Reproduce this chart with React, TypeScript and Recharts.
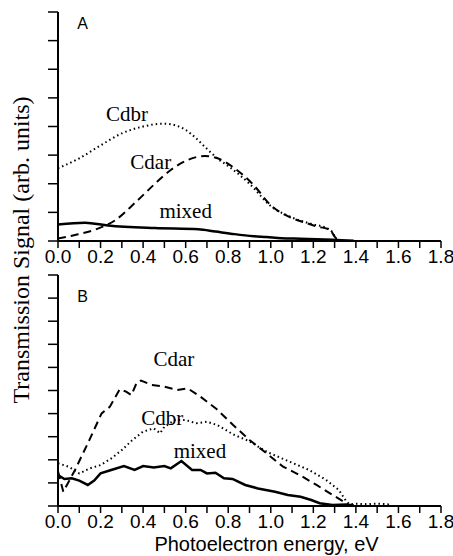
import React from 'react';
import { LineChart, Line, XAxis, YAxis, ReferenceDot } from 'recharts';

// ---- tick values ----
const xTicks = [0, 0.1, 0.2, 0.3, 0.4, 0.5, 0.6, 0.7, 0.8, 0.9, 1.0, 1.1, 1.2, 1.3, 1.4, 1.5, 1.6, 1.7, 1.8];
const aYTicks = [0, 1, 2, 3, 4, 5, 6, 7, 8];
const bYTicks = [0, 1, 2, 3, 4, 5, 6, 7, 8, 9, 10];

// ---- Panel A ----
const aCdbrE = [0, 0.1, 0.2, 0.3, 0.4, 0.5, 0.6, 0.65, 0.7, 0.75, 0.8, 0.9, 1.0, 1.1, 1.2, 1.26, 1.29, 1.31];
const aCdbrV = [2.54, 2.89, 3.34, 3.76, 4.0, 4.1, 3.88, 3.58, 3.22, 2.88, 2.62, 2.0, 1.22, 0.82, 0.58, 0.46, 0.3, 0.03];

const aCdarE = [0, 0.08, 0.19, 0.27, 0.36, 0.45, 0.53, 0.61, 0.69, 0.75, 0.83, 0.92, 1.0, 1.1, 1.17, 1.21, 1.28, 1.3, 1.33];
const aCdarV = [0.09, 0.21, 0.44, 0.73, 1.32, 1.96, 2.48, 2.83, 2.97, 2.89, 2.54, 1.95, 1.25, 0.8, 0.62, 0.52, 0.38, 0.15, 0.0];

const aMixedE = [0, 0.127, 0.236, 0.455, 0.66, 0.74, 0.83, 0.92, 0.98, 1.05, 1.14, 1.29, 1.39];
const aMixedV = [0.58, 0.64, 0.54, 0.45, 0.41, 0.33, 0.24, 0.17, 0.14, 0.1, 0.08, 0.04, 0.01];

// ---- Panel B ----
const bCdarE = [0, 0.025, 0.08, 0.14, 0.205, 0.244, 0.29, 0.32, 0.345, 0.37, 0.39, 0.44, 0.5, 0.56, 0.61, 0.67, 0.745, 0.823, 0.9, 0.98, 1.058, 1.136, 1.215, 1.29, 1.355, 1.37];
const bCdarV = [1.5, 0.62, 1.56, 2.71, 4.01, 4.3, 5.05, 4.95, 4.8, 5.34, 5.43, 5.24, 5.17, 5.02, 5.09, 4.73, 4.2, 3.51, 2.86, 2.28, 1.7, 1.34, 0.91, 0.48, 0.12, 0];

const bCdbrE = [0, 0.05, 0.1, 0.15, 0.2, 0.25, 0.3, 0.35, 0.4, 0.45, 0.48, 0.5, 0.55, 0.6, 0.65, 0.7, 0.75, 0.823, 0.9, 0.98, 1.07, 1.18, 1.26, 1.32, 1.355, 1.37, 1.4, 1.45, 1.5, 1.55, 1.56];
const bCdbrV = [1.85, 1.7, 1.41, 1.63, 1.77, 2.06, 2.42, 2.86, 3.22, 3.36, 3.15, 3.43, 3.72, 3.72, 3.58, 3.65, 3.5, 3.1, 2.8, 2.35, 1.99, 1.56, 1.13, 0.69, 0.2, 0.08, 0.1, 0.08, 0.1, 0.08, 0];

const bMixedE = [0, 0.03, 0.065, 0.1, 0.14, 0.17, 0.2, 0.25, 0.31, 0.36, 0.4, 0.45, 0.5, 0.53, 0.58, 0.63, 0.67, 0.7, 0.74, 0.78, 0.82, 0.88, 0.94, 1.02, 1.08, 1.14, 1.19, 1.23, 1.29, 1.355, 1.39];
const bMixedV = [1.34, 1.17, 1.2, 1.1, 0.91, 1.1, 1.41, 1.56, 1.73, 1.56, 1.73, 1.67, 1.73, 1.63, 1.95, 1.56, 1.56, 1.41, 1.44, 1.2, 1.17, 0.91, 0.76, 0.62, 0.48, 0.4, 0.26, 0.12, 0.04, 0.07, 0.02];

// ---- annotations (text, energy, signal) ----
const aNotes = [
  { text: 'Cdbr', e: 0.324, v: 4.44, serif: true },
  { text: 'Cdar', e: 0.436, v: 2.77, serif: true },
  { text: 'mixed', e: 0.6, v: 1.07, serif: true },
  { text: 'A', e: 0.115, v: 7.6, serif: false },
];
const bNotes = [
  { text: 'Cdar', e: 0.545, v: 6.37, serif: true },
  { text: 'Cdbr', e: 0.49, v: 3.85, serif: true },
  { text: 'mixed', e: 0.667, v: 2.41, serif: true },
  { text: 'B', e: 0.116, v: 9.06, serif: false },
];

const zip = (e: number[], v: number[]) => e.map((x, i) => ({ e: x, v: v[i] }));

const SANS = 'Liberation Sans, Arial, sans-serif';
const SERIF = 'Liberation Serif, Times New Roman, serif';

const xFmt = (v: number) => (Math.round(v * 10) % 2 === 0 ? v.toFixed(1) : '');

function notes(list: typeof aNotes) {
  return list.map((n) => (
    <ReferenceDot
      key={n.text + n.e}
      x={n.e}
      y={n.v}
      r={0}
      fill="none"
      stroke="none"
      label={{
        value: n.text,
        position: 'center',
        fontSize: n.serif ? 21 : 16,
        fontFamily: n.serif ? SERIF : SANS,
        fill: '#000',
      }}
    />
  ));
}

export default function App() {
  const xAxisCommon = {
    dataKey: 'e',
    type: 'number' as const,
    domain: [0, 1.8],
    ticks: xTicks,
    interval: 0 as const,
    tickFormatter: xFmt,
    tickSize: 7,
    tickMargin: 2,
    axisLine: { stroke: '#000', strokeWidth: 2 },
    tickLine: { stroke: '#000', strokeWidth: 1.5 },
    tick: { fontSize: 19, fill: '#000', fontFamily: SANS },
    allowDataOverflow: true,
  };
  const yAxisCommon = {
    type: 'number' as const,
    width: 58,
    tickSize: 10,
    tickFormatter: () => '',
    axisLine: { stroke: '#000', strokeWidth: 2 },
    tickLine: { stroke: '#000', strokeWidth: 1.5 },
    allowDataOverflow: true,
  };
  return (
    <div style={{ position: 'absolute', left: 0, top: 0, width: 453, height: 556, background: '#fff' }}>
      <div style={{ position: 'absolute', left: 0, top: 0 }}>
        <LineChart width={453} height={270} margin={{ top: 12, right: 12, bottom: 0, left: 0 }}>
          <XAxis {...xAxisCommon} height={29} />
          <YAxis {...yAxisCommon} domain={[0, 8]} ticks={aYTicks} />
          <Line data={zip(aCdbrE, aCdbrV)} dataKey="v" type="monotone" stroke="#000" strokeWidth={2} strokeDasharray="1.5 3" dot={false} isAnimationActive={false} />
          <Line data={zip(aCdarE, aCdarV)} dataKey="v" type="monotone" stroke="#000" strokeWidth={2} strokeDasharray="8 5" dot={false} isAnimationActive={false} />
          <Line data={zip(aMixedE, aMixedV)} dataKey="v" type="monotone" stroke="#000" strokeWidth={2.5} dot={false} isAnimationActive={false} />
          {notes(aNotes)}
        </LineChart>
      </div>
      <div style={{ position: 'absolute', left: 0, top: 262 }}>
        <LineChart width={453} height={294} margin={{ top: 13, right: 12, bottom: 0, left: 0 }}>
          <XAxis
            {...xAxisCommon}
            height={50}
            label={{ value: 'Photoelectron energy, eV', position: 'insideBottom', offset: 5, dx: 17, fontSize: 20, fill: '#000', fontFamily: SANS }}
          />
          <YAxis {...yAxisCommon} domain={[0, 10]} ticks={bYTicks} />
          <Line data={zip(bCdbrE, bCdbrV)} dataKey="v" type="linear" stroke="#000" strokeWidth={2} strokeDasharray="1.5 3" dot={false} isAnimationActive={false} />
          <Line data={zip(bCdarE, bCdarV)} dataKey="v" type="linear" stroke="#000" strokeWidth={2} strokeDasharray="8 5" dot={false} isAnimationActive={false} />
          <Line data={zip(bMixedE, bMixedV)} dataKey="v" type="linear" stroke="#000" strokeWidth={2.5} dot={false} isAnimationActive={false} />
          {notes(bNotes)}
        </LineChart>
      </div>
      <svg width={40} height={556} style={{ position: 'absolute', left: 0, top: 0 }}>
        <text
          transform="translate(21,250) rotate(-90)"
          textAnchor="middle"
          dominantBaseline="central"
          fontSize={24}
          fontFamily={SERIF}
          fill="#000"
        >
          Transmission Signal (arb. units)
        </text>
      </svg>
    </div>
  );
}
